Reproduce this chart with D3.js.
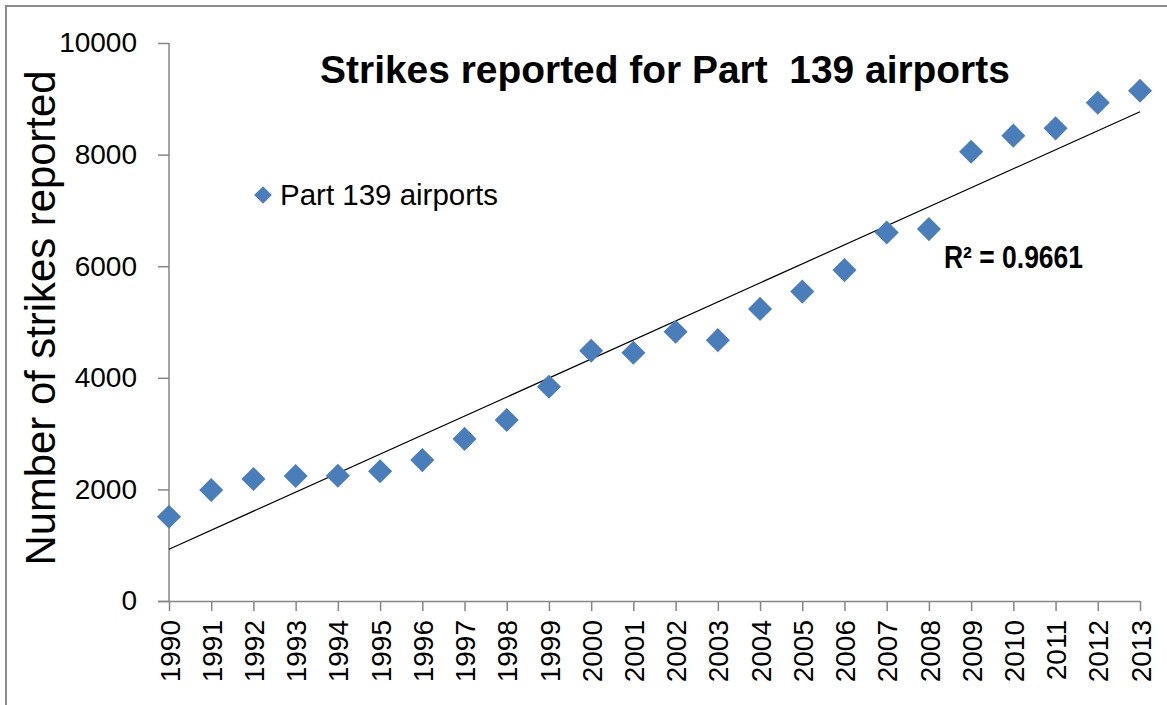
<!DOCTYPE html>
<html>
<head>
<meta charset="utf-8">
<script src="https://cdn.jsdelivr.net/npm/d3@7"></script>
<style>
  html, body { margin: 0; padding: 0; background: #fff; }
  svg { display: block; }
  text { font-family: "Liberation Sans", Arial, sans-serif; fill: #000; }
</style>
</head>
<body>
<svg id="chart" width="1167" height="705"></svg>
<script>
// --- Data ----------------------------------------------------------------
const years = [1990, 1991, 1992, 1993, 1994, 1995, 1996, 1997, 1998, 1999, 2000, 2001,
               2002, 2003, 2004, 2005, 2006, 2007, 2008, 2009, 2010, 2011, 2012, 2013];
const strikes = [1510, 1990, 2185, 2240, 2245, 2325, 2525, 2905, 3245, 3840, 4485, 4450,
                 4825, 4675, 5235, 5545, 5930, 6605, 6665, 8050, 8340, 8470, 8930, 9145];
const yTicks = [0, 2000, 4000, 6000, 8000, 10000];
const titleText = 'Strikes reported for Part\u00a0 139 airports';
const yTitle = 'Number of strikes reported';
const legendLabel = 'Part 139 airports';
const r2Label = 'R\u00b2 = 0.9661';

const blue = '#4a7ebb';
const axisGray = '#868686';

// --- Layout --------------------------------------------------------------
const svg = d3.select('#chart');

const x = d3.scalePoint().domain(years).range([169, 1140]);
const y = d3.scaleLinear().domain([0, 10000]).range([601, 43]);

// outer frame (only left + top edge visible in the crop)
svg.append('path')
  .attr('d', 'M6,705 V6 H1167')
  .attr('fill', 'none')
  .attr('stroke', '#8c8c8c')
  .attr('stroke-width', 2);

// fit a text element to a target width by adjusting font size
function fitWidth(sel, target) {
  const node = sel.node();
  const fs = parseFloat(sel.attr('font-size'));
  const w = node.getComputedTextLength();
  sel.attr('font-size', (fs * target / w).toFixed(2));
}

// --- Axes ----------------------------------------------------------------
const yAxis = svg.append('g')
  .attr('transform', `translate(${x(years[0])},0)`)
  .call(d3.axisLeft(y).tickValues(yTicks).tickSize(11).tickPadding(21).tickFormat(d3.format('d')));

const xAxis = svg.append('g')
  .attr('transform', `translate(0,${y(0)})`)
  .call(d3.axisBottom(x).tickSize(10).tickPadding(0));

[yAxis, xAxis].forEach(a => {
  a.select('.domain').attr('stroke', axisGray).attr('stroke-width', 1.5);
  a.selectAll('.tick line').attr('stroke', axisGray).attr('stroke-width', 1.5);
  a.selectAll('text').attr('font-family', '"Liberation Sans", Arial, sans-serif')
    .attr('font-size', 28).attr('fill', '#000');
});
// x domain starts at the 0 tick on the left
xAxis.select('.domain').attr('d', `M${x(years[0]) - 11},0.5H${x(years[years.length - 1])}`);
yAxis.select('.domain').attr('d', `M0,${y(10000)}V${y(0)}`);

xAxis.selectAll('.tick text')
  .attr('transform', 'rotate(-90)')
  .attr('text-anchor', 'end')
  .attr('x', -19)
  .attr('y', 0)
  .attr('dy', '0.36em');

// --- Trend line (least squares) ------------------------------------------
const n = years.length;
const mx = d3.mean(years), my = d3.mean(strikes);
const slope = d3.sum(years, (v, i) => (v - mx) * (strikes[i] - my)) / d3.sum(years, v => (v - mx) ** 2);
const intercept = my - slope * mx;
const ends = [years[0], years[n - 1]];

svg.append('path')
  .attr('d', d3.line().x(d => x(d)).y(d => y(intercept + slope * d))(ends))
  .attr('fill', 'none')
  .attr('stroke', '#000')
  .attr('stroke-width', 1.2);

// --- Points ----------------------------------------------------------------
const diamond = d3.symbol().type(d3.symbolDiamond2).size(370);

svg.append('g').selectAll('path')
  .data(years)
  .join('path')
  .attr('transform', (d, i) => `translate(${x(d)},${y(strikes[i])})`)
  .attr('d', diamond)
  .attr('fill', blue);

// --- Texts -----------------------------------------------------------------
const title = svg.append('text')
  .attr('x', 665).attr('y', 83)
  .attr('text-anchor', 'middle')
  .attr('font-weight', 'bold')
  .attr('font-size', 31)
  .text(titleText);
fitWidth(title, 690);

const yt = svg.append('text')
  .attr('transform', 'translate(55,318) rotate(-90)')
  .attr('text-anchor', 'middle')
  .attr('font-size', 40)
  .text(yTitle);
fitWidth(yt, 495);

svg.append('path')
  .attr('transform', 'translate(263,195)')
  .attr('d', d3.symbol().type(d3.symbolDiamond2).size(200)())
  .attr('fill', blue);

const lg = svg.append('text')
  .attr('x', 280).attr('y', 205)
  .attr('font-size', 29)
  .text(legendLabel);
fitWidth(lg, 218);

// narrower face in the original: keep the cap height, squeeze the width
svg.append('text')
  .attr('x', 944).attr('y', 268)
  .attr('font-weight', 'bold')
  .attr('font-size', 31)
  .attr('textLength', 139)
  .attr('lengthAdjust', 'spacingAndGlyphs')
  .text(r2Label);
</script>
</body>
</html>
